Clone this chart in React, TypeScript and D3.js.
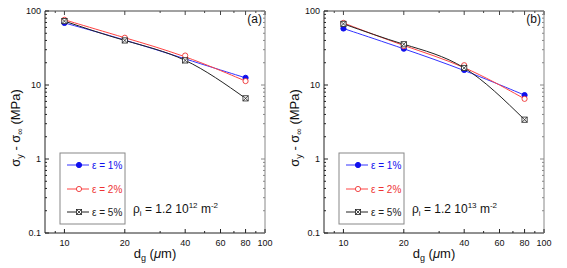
import React from "react";
import * as d3 from "d3";

// grain size, micrometres
const grainSizes = [10, 20, 40, 80];

// panel (a): rho_i = 1.2e12 m^-2
const panelA_eps1 = [69, 41, 22.5, 12.5];
const panelA_eps2 = [76, 43.5, 25, 11.3];
const panelA_eps5 = [73, 40, 21.5, 6.6];

// panel (b): rho_i = 1.2e13 m^-2
const panelB_eps1 = [58, 31, 16, 7.3];
const panelB_eps2 = [69, 33.5, 18.5, 6.5];
const panelB_eps5 = [67, 35.5, 17, 3.4];

const xTickLabels = [10, 20, 40, 60, 80, 100];
const xMinorTicks = [9, 30, 50, 70, 90];
const yTickLabels = [0.1, 1, 10, 100];

const seriesNames = ["ε = 1%", "ε = 2%", "ε = 5%"];
const seriesColors = ["#1010ee", "#ee3333", "#222222"];
const lineColors = ["#3333ff", "#ff4444", "#222222"];

const FONT = "'Liberation Sans', Arial, Helvetica, sans-serif";

const Marker = ({ kind, x, y, color }) => {
  if (kind === 0) return <circle cx={x} cy={y} r={2.6} fill={color} stroke={color} />;
  if (kind === 1) return <circle cx={x} cy={y} r={2.6} fill="#fff" stroke={color} strokeWidth={0.9} />;
  const s = 2.6;
  return (
    <g stroke={color} strokeWidth={0.8} fill="#fff">
      <rect x={x - s} y={y - s} width={2 * s} height={2 * s} />
      <line x1={x - s} y1={y - s} x2={x + s} y2={y + s} />
      <line x1={x - s} y1={y + s} x2={x + s} y2={y - s} />
    </g>
  );
};

const Panel = ({ left, series, tag, exponent }) => {
  const top = 11, bottom = 233, right = left + 220;
  const x = d3.scaleLog().domain([8, 100]).range([left, right]);
  const y = d3.scaleLog().domain([0.1, 100]).range([bottom, top]);

  // smooth fitted look for 1% and 2%, smooth curve through points for 5%
  const lineFor = (i) =>
    d3
      .line<[number, number]>()
      .x((d) => x(d[0]))
      .y((d) => y(d[1]))
      .curve(i < 2 ? d3.curveBasis : d3.curveNatural);

  const yMinor: number[] = [];
  [0.1, 1, 10].forEach((dec) => {
    for (let k = 2; k <= 9; k++) yMinor.push(dec * k);
  });

  const legX = left + 15, legY = 153;
  const rows = [165, 189, 212];

  return (
    <g fontFamily={FONT}>
      {/* frame */}
      <line x1={left} x2={right} y1={top} y2={top} stroke="#444" />
      <line x1={right} x2={right} y1={top} y2={bottom} stroke="#888" />
      <line x1={left} x2={left} y1={top} y2={bottom} stroke="#222" />
      <line x1={left} x2={right} y1={bottom} y2={bottom} stroke="#222" />

      {/* x ticks */}
      {xTickLabels.map((t) => (
        <g key={"xt" + t}>
          <line x1={x(t)} x2={x(t)} y1={bottom} y2={bottom - 4} stroke="#222" />
          <line x1={x(t)} x2={x(t)} y1={top} y2={top + 4} stroke="#444" />
          <text x={x(t)} y={246} fontSize={9} textAnchor="middle" fill="#111">
            {t}
          </text>
        </g>
      ))}
      {xMinorTicks.map((t) => (
        <g key={"xm" + t}>
          <line x1={x(t)} x2={x(t)} y1={bottom} y2={bottom - 2} stroke="#222" />
          <line x1={x(t)} x2={x(t)} y1={top} y2={top + 2} stroke="#444" />
        </g>
      ))}

      {/* y ticks */}
      {yTickLabels.map((t) => (
        <g key={"yt" + t}>
          <line x1={left} x2={left + 4} y1={y(t)} y2={y(t)} stroke="#222" />
          <line x1={right} x2={right - 4} y1={y(t)} y2={y(t)} stroke="#888" />
          <text x={left - 4} y={y(t) + 3.2} fontSize={9} textAnchor="end" fill="#111">
            {t}
          </text>
        </g>
      ))}
      {yMinor.map((t) => (
        <g key={"ym" + t}>
          <line x1={left} x2={left + 2} y1={y(t)} y2={y(t)} stroke="#222" />
          <line x1={right} x2={right - 2} y1={y(t)} y2={y(t)} stroke="#888" />
        </g>
      ))}

      {/* data */}
      {series.map((vals, i) => {
        const pts = grainSizes.map((g, j) => [g, vals[j]] as [number, number]);
        return (
          <g key={"s" + i}>
            <path d={lineFor(i)(pts) || ""} fill="none" stroke={lineColors[i]} strokeWidth={1} />
            {pts.map((p, j) => (
              <Marker key={j} kind={i} x={x(p[0])} y={y(p[1])} color={seriesColors[i]} />
            ))}
          </g>
        );
      })}

      {/* legend */}
      <rect x={legX} y={legY} width={65} height={71} fill="#fff" stroke="#888" />
      {seriesNames.map((name, i) => (
        <g key={"l" + i}>
          <line x1={legX + 7} x2={legX + 29} y1={rows[i]} y2={rows[i]} stroke={lineColors[i]} />
          <Marker kind={i} x={legX + 19} y={rows[i]} color={seriesColors[i]} />
          <text x={legX + 32} y={rows[i] + 3.5} fontSize={10} fill={seriesColors[i]}>
            {name}
          </text>
        </g>
      ))}

      {/* annotation */}
      <text x={left + 88} y={213} fontSize={12} fill="#111">
        ρ<tspan fontSize={8} dy={3}>i</tspan>
        <tspan dy={-3}> = 1.2 10</tspan>
        <tspan fontSize={8} dy={-5}>{exponent}</tspan>
        <tspan dy={5}> m</tspan>
        <tspan fontSize={8} dy={-5}>-2</tspan>
      </text>

      <text x={right - 3} y={23} fontSize={12} textAnchor="end" fill="#111">
        {tag}
      </text>

      {/* axis titles */}
      <text x={(left + right) / 2} y={258} fontSize={13} textAnchor="middle" fill="#111">
        d<tspan fontSize={9} dy={3}>g</tspan>
        <tspan dy={-3}> (</tspan>
        <tspan fontStyle="italic">μ</tspan>
        <tspan>m)</tspan>
      </text>
      <text
        transform={`translate(${left - 25},${(top + bottom) / 2 + 6}) rotate(-90)`}
        fontSize={13}
        textAnchor="middle"
        fill="#111"
      >
        σ<tspan fontSize={9} dy={3}>y</tspan>
        <tspan dy={-3}> - σ</tspan>
        <tspan fontSize={9} dy={3}>∞</tspan>
        <tspan dy={-3}>  (MPa)</tspan>
      </text>
    </g>
  );
};

export default function App() {
  return (
    <svg
      width={567}
      height={268}
      style={{ position: "absolute", left: 0, top: 0, background: "#fff" }}
    >
      <Panel left={45} series={[panelA_eps1, panelA_eps2, panelA_eps5]} tag="(a)" exponent="12" />
      <Panel left={324} series={[panelB_eps1, panelB_eps2, panelB_eps5]} tag="(b)" exponent="13" />
    </svg>
  );
}
